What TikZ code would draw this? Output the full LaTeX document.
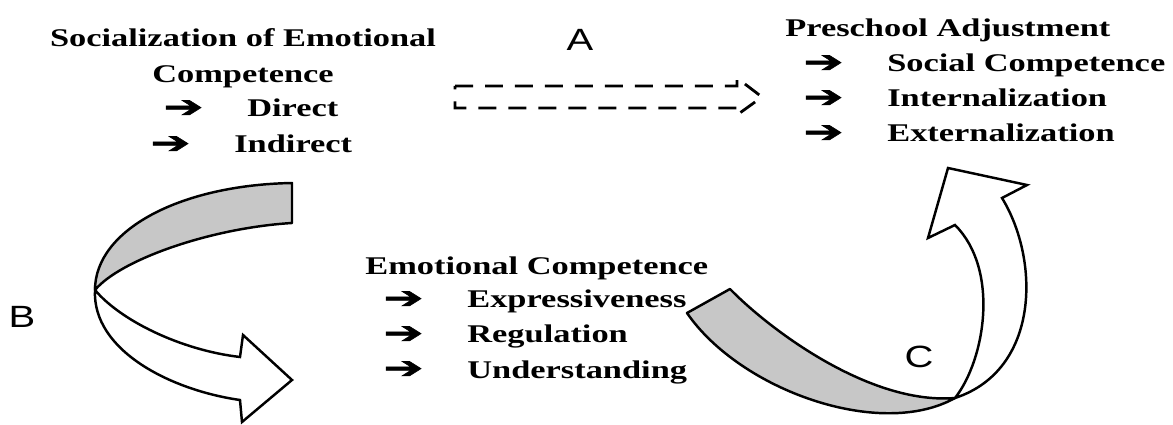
\documentclass[tikz,border=0pt]{standalone}
\usepackage{fontspec}
\newfontfamily\boxfont{Liberation Serif}[FakeStretch=1.35]
\newfontfamily\letterfont{Liberation Sans}[FakeStretch=1.3]
\newfontfamily\arrowfont{DejaVu Sans}[FakeStretch=1.6,FakeBold=2]

\usetikzlibrary{arrows.meta,positioning,calc}

\newcommand{\itemArrow}{\makebox[1.68cm][l]{\arrowfont\fontsize{17}{17}\selectfont ➔}}

\begin{document}
\begin{tikzpicture}[
        x=0.02cm, y=-0.02cm,
        titleText/.style={
            inner sep=0pt,
            font=\boxfont\bfseries\fontsize{14.5}{17}\selectfont
        },
        pathLabel/.style={
            inner sep=0pt,
            font=\letterfont\fontsize{17.5}{20}\selectfont
        },
        ribbonGray/.style={
            draw=black,
            fill=black!22,
            line width=1.4pt,
            line join=round
        },
        ribbonWhite/.style={
            draw=black,
            fill=white,
            line width=1.4pt,
            line join=miter
        },
        dashedArrow/.style={
            draw=black,
            line width=1.6pt,
            dash pattern=on 0.36cm off 0.24cm
        }
    ]

        \useasboundingbox (0,0) rectangle (1173,425);

        % Socialization block
        \node[titleText, anchor=base] (socTitle) at (243,47) {Socialization of Emotional};
        \node[titleText, anchor=base] (socSub) at (243,83) {Competence};
        \node[titleText, anchor=base west] (socDirect) at (163,117) {\itemArrow Direct};
        \node[titleText, anchor=base west] (socIndirect) at (150,153) {\itemArrow Indirect};

        % Preschool adjustment block
        \node[titleText, anchor=base west] (adjTitle) at (785,37) {Preschool Adjustment};
        \foreach \itemName/\itemY [count=\i] in {Social Competence/72, Internalization/107, Externalization/142}
        {
            \node[titleText, anchor=base west] (adj\i) at (803,\itemY) {\itemArrow \itemName};
        }

        % Emotional competence block
        \node[titleText, anchor=base west] (emoTitle) at (365,275) {Emotional Competence};
        \foreach \itemName/\itemY [count=\i] in {Expressiveness/308, Regulation/343, Understanding/378}
        {
            \node[titleText, anchor=base west] (emo\i) at (383,\itemY) {\itemArrow \itemName};
        }

        % Path A: dashed block arrow
        \draw[dashedArrow]
            (455,86) -- (737,86) -- (737,78) -- (762,97)
            -- (737,115) -- (737,108) -- (455,108) -- cycle;

        % Path B: twisted ribbon arrow
        \filldraw[ribbonGray]
            (292,183) .. controls (180,185) and (95,230) .. (95,290)
            .. controls (120,260) and (210,228) .. (292,223) -- cycle;
        \filldraw[ribbonWhite]
            (95,290) .. controls (92,350) and (170,390) .. (240,400)
            -- (242,422) -- (292,380) -- (243,335) -- (240,357)
            .. controls (180,350) and (120,320) .. (95,290) -- cycle;

        % Path C: twisted ribbon arrow
        \filldraw[ribbonGray]
            (687,313) -- (730,289) .. controls (770,330) and (870,405) .. (955,398)
            .. controls (880,440) and (740,390) .. (687,313) -- cycle;
        \filldraw[ribbonWhite]
            (955,398) .. controls (985,360) and (1000,270) .. (955,225)
            -- (928,238) -- (948,168) -- (1027,185) -- (1002,198)
            .. controls (1040,260) and (1040,370) .. (955,398) -- cycle;

        % Path letters
        \node[pathLabel] (labelA) at (580,40) {A};
        \node[pathLabel] (labelB) at (22,317) {B};
        \node[pathLabel] (labelC) at (919,357) {C};

    \end{tikzpicture}
\end{document}
